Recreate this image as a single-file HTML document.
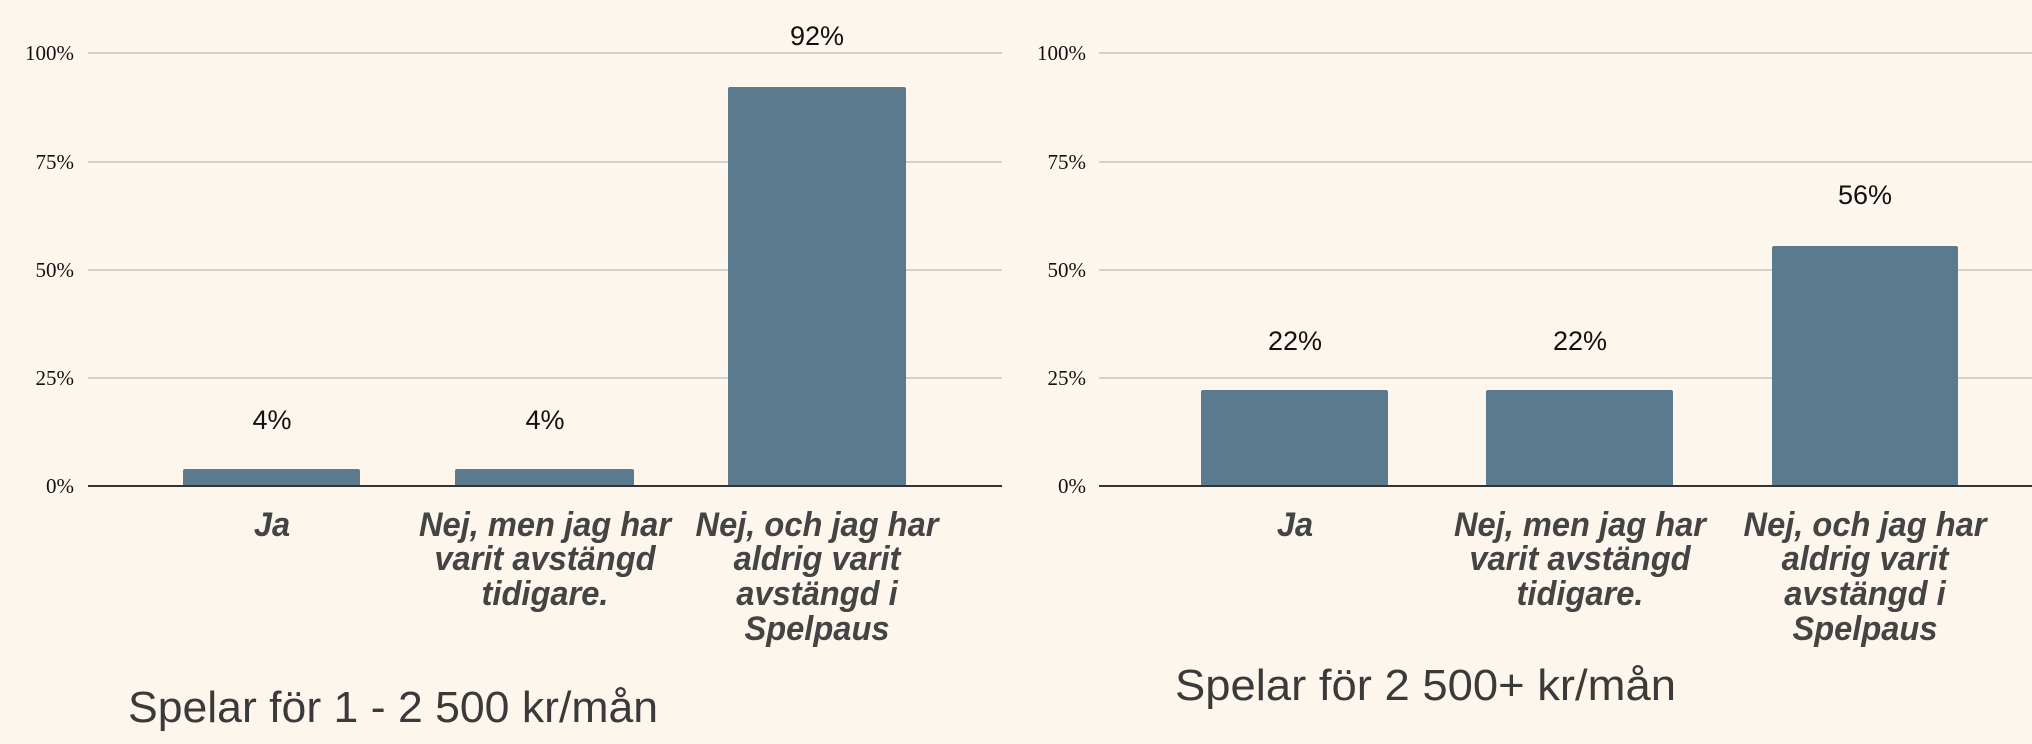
<!DOCTYPE html>
<html><head><meta charset="utf-8"><style>
html,body{margin:0;padding:0;background:#fdf6ec;}
svg{display:block}
.t{font-family:"Liberation Serif",serif;font-size:21px;fill:#111;text-anchor:end}
.v{font-family:"Liberation Sans",sans-serif;font-size:27px;fill:#111;text-anchor:middle}
.c{font-family:"Liberation Sans",sans-serif;font-size:34px;font-weight:bold;font-style:italic;fill:#444;text-anchor:middle}
.h{font-family:"Liberation Sans",sans-serif;font-size:44px;fill:#3a3a3a;font-weight:300}
</style></head><body>
<svg width="2032" height="744" viewBox="0 0 2032 744">
<rect width="2032" height="744" fill="#fdf6ec"/>
<g stroke="#d3cfca" stroke-width="2">
<line x1="88" y1="53" x2="1002" y2="53"/><line x1="88" y1="162" x2="1002" y2="162"/><line x1="88" y1="270" x2="1002" y2="270"/><line x1="88" y1="378" x2="1002" y2="378"/>
<line x1="1099" y1="53" x2="2032" y2="53"/><line x1="1099" y1="162" x2="2032" y2="162"/><line x1="1099" y1="270" x2="2032" y2="270"/><line x1="1099" y1="378" x2="2032" y2="378"/>
</g>
<g class="t">
<text x="74" y="60">100%</text><text x="74" y="169">75%</text><text x="74" y="277">50%</text><text x="74" y="385">25%</text><text x="74" y="493">0%</text>
<text x="1086" y="60">100%</text><text x="1086" y="169">75%</text><text x="1086" y="277">50%</text><text x="1086" y="385">25%</text><text x="1086" y="493">0%</text>
</g>
<g fill="#5b7a8e">
<rect x="183" y="469" width="177" height="17" rx="2"/>
<rect x="455" y="469" width="179" height="17" rx="2"/>
<rect x="728" y="87" width="178" height="399" rx="2"/>
<rect x="1201" y="390" width="187" height="96" rx="2"/>
<rect x="1486" y="390" width="187" height="96" rx="2"/>
<rect x="1772" y="246" width="186" height="240" rx="2"/>
</g>
<line x1="88" y1="486" x2="1002" y2="486" stroke="#333" stroke-width="2"/>
<line x1="1099" y1="486" x2="2032" y2="486" stroke="#333" stroke-width="2"/>
<g class="v">
<text x="272" y="429">4%</text><text x="545" y="429">4%</text><text x="817" y="45">92%</text>
<text x="1295" y="350">22%</text><text x="1580" y="350">22%</text><text x="1865" y="204">56%</text>
</g>
<g class="c">
<text x="272" y="536" transform="translate(272 0) scale(0.96 1) translate(-272 0)">Ja</text>
<g transform="translate(545 0) scale(0.96 1) translate(-545 0)"><text x="545" y="536">Nej, men jag har</text><text x="545" y="570">varit avstängd</text><text x="545" y="605">tidigare.</text></g>
<g transform="translate(817 0) scale(0.96 1) translate(-817 0)"><text x="817" y="536">Nej, och jag har</text><text x="817" y="570">aldrig varit</text><text x="817" y="605">avstängd i</text><text x="817" y="640">Spelpaus</text></g>
<text x="1295" y="536" transform="translate(1295 0) scale(0.96 1) translate(-1295 0)">Ja</text>
<g transform="translate(1580 0) scale(0.96 1) translate(-1580 0)"><text x="1580" y="536">Nej, men jag har</text><text x="1580" y="570">varit avstängd</text><text x="1580" y="605">tidigare.</text></g>
<g transform="translate(1865 0) scale(0.96 1) translate(-1865 0)"><text x="1865" y="536">Nej, och jag har</text><text x="1865" y="570">aldrig varit</text><text x="1865" y="605">avstängd i</text><text x="1865" y="640">Spelpaus</text></g>
</g>
<text class="h" x="128" y="722" textLength="530" lengthAdjust="spacingAndGlyphs">Spelar för 1 - 2 500 kr/mån</text>
<text class="h" x="1175" y="700" textLength="501" lengthAdjust="spacingAndGlyphs">Spelar för 2 500+ kr/mån</text>
</svg>
</body></html>
